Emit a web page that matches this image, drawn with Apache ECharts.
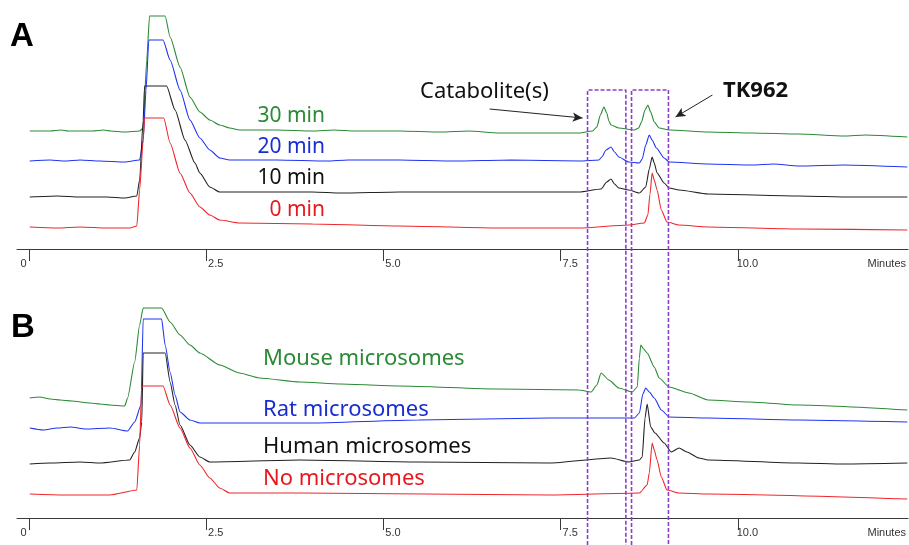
<!DOCTYPE html>
<html lang="en">
<head>
<meta charset="utf-8">
<title>TK962 microsomal stability</title>
<script src="https://cdn.jsdelivr.net/npm/echarts@6/dist/echarts.min.js"></script>
<style>
  html, body { margin: 0; padding: 0; background: #fff; }
  #chart { width: 909px; height: 545px; }
</style>
</head>
<body>
<div id="chart"></div>
<script>
// time axis (minutes)
var tickValues = [0, 2.5, 5, 7.5, 10];
var unitPos = 12.1;          // where "Minutes" sits on the axis

// panel A - incubation time, [minutes, signal]
var min30 = [[0.01,118],[0.3,118],[0.45,119],[0.55,118],[0.9,118],[1.05,119],[1.15,118],[1.35,117],[1.56,118],[1.61,121],[1.66,189],[1.70,233],[1.92,233],[1.99,212],[2.13,182],[2.27,152],[2.41,137],[2.55,129],[2.69,124],[2.83,121],[2.97,119],[3.5,119],[4.0,118],[4.3,119],[4.6,118],[5.23,118],[5.8,117],[6.2,118],[6.63,116],[7.3,116],[7.76,116],[7.95,118],[8.01,122],[8.06,134],[8.11,142],[8.15,136],[8.18,128],[8.21,124],[8.32,121],[8.54,119],[8.60,121],[8.64,127],[8.69,139],[8.73,144],[8.77,137],[8.82,127],[8.89,121],[9.03,119],[9.58,117],[10.2,116],[10.86,115],[11.5,113],[11.8,114],[12.39,112]];
var min20 = [[0.01,88],[0.3,89],[0.5,88],[0.72,89],[1.0,88],[1.35,87],[1.56,89],[1.61,109],[1.65,159],[1.69,209],[1.89,209],[1.99,189],[2.13,159],[2.27,129],[2.41,111],[2.55,99],[2.69,91],[2.83,89],[3.5,89],[4.2,88],[4.5,89],[5.23,89],[6.0,88],[6.8,89],[7.76,88],[8.04,89],[8.08,92],[8.14,99],[8.21,102],[8.26,97],[8.32,92],[8.46,87],[8.61,86],[8.65,90],[8.70,104],[8.75,114],[8.79,109],[8.85,101],[8.96,91],[9.03,87],[9.58,85],[10.2,84],[10.5,85],[10.86,83],[11.5,84],[12.39,82]];
var min10 = [[0.01,52],[0.4,53],[0.72,52],[1.1,52],[1.35,51],[1.52,53],[1.56,69],[1.61,129],[1.63,163],[1.94,163],[2.06,139],[2.20,109],[2.34,86],[2.41,76],[2.55,62],[2.69,57],[2.97,57],[4.0,57],[4.4,56],[5.23,57],[6.3,57],[7.76,57],[8.07,60],[8.15,67],[8.21,70],[8.26,65],[8.32,61],[8.46,59],[8.61,56],[8.70,62],[8.75,80],[8.79,92],[8.82,86],[8.86,76],[8.96,66],[9.03,61],[9.17,59],[9.58,55],[10.86,53],[11.6,52],[12.39,52]];
var min0 = [[0.01,22],[0.4,21],[0.72,22],[1.1,21],[1.42,21],[1.52,23],[1.56,59],[1.61,109],[1.63,131],[1.90,131],[1.99,106],[2.13,76],[2.27,56],[2.41,42],[2.55,34],[2.69,29],[2.97,26],[4.0,25],[5.23,23],[6.63,21],[7.76,21],[8.46,24],[8.68,26],[8.73,34],[8.76,55],[8.79,76],[8.82,69],[8.86,59],[8.92,39],[9.0,27],[9.17,24],[9.58,22],[10.86,20],[12.39,19]];

// panel B - microsome species
var mouse = [[0.01,120],[0.15,121],[0.3,119],[0.44,118],[0.6,117],[0.86,115],[1.0,114],[1.14,113],[1.35,112],[1.39,120],[1.49,156],[1.56,193],[1.61,210],[1.87,210],[1.99,196],[2.13,183],[2.27,173],[2.41,165],[2.69,153],[2.97,145],[3.25,140],[3.82,136],[4.4,134],[5.23,132],[6.63,129],[7.76,128],[7.93,126],[8.01,133],[8.07,145],[8.18,138],[8.32,130],[8.51,126],[8.58,131],[8.61,160],[8.63,173],[8.67,169],[8.72,165],[8.82,151],[8.89,140],[9.03,131],[9.31,125],[9.58,118],[10.15,116],[10.86,113],[12.39,108]];
var rat = [[0.01,90],[0.2,88],[0.4,90],[0.58,91],[0.8,89],[1.14,90],[1.39,87],[1.49,96],[1.58,113],[1.61,199],[1.87,199],[1.92,173],[1.99,146],[2.06,123],[2.13,106],[2.27,98],[2.41,95],[3.96,95],[5.5,98],[7.34,100],[8.54,100],[8.61,105],[8.66,124],[8.70,130],[8.75,126],[8.82,120],[8.92,108],[9.03,101],[9.58,100],[10.86,98],[12.39,96]];
var human = [[0.01,54],[0.3,55],[0.72,56],[1.0,55],[1.42,58],[1.49,66],[1.56,80],[1.59,96],[1.61,165],[1.92,165],[1.99,136],[2.06,113],[2.13,93],[2.27,73],[2.41,61],[2.55,56],[3.82,58],[5.5,56],[7.34,55],[8.21,60],[8.46,56],[8.61,58],[8.65,61],[8.69,100],[8.72,114],[8.77,91],[8.83,85],[8.96,75],[9.06,66],[9.17,70],[9.28,66],[9.45,60],[9.58,58],[10.86,55],[11.5,54],[12.39,55]];
var noMic = [[0.01,24],[0.5,23],[1.14,23],[1.52,28],[1.56,73],[1.59,132],[1.89,132],[1.99,113],[2.13,90],[2.27,70],[2.41,53],[2.55,40],[2.69,30],[2.83,25],[3.82,25],[7.34,23],[8.61,25],[8.72,33],[8.75,45],[8.79,75],[8.82,68],[8.86,58],[8.92,41],[9.0,28],[9.17,25],[9.58,24],[12.39,19]];

// dashed boxes (minutes) and their top (panel A signal)
var catBox = [7.87, 8.41];
var tkBox = [8.49, 9.01];
var boxTop = 159;

var GREEN = '#2a8a35', BLUE = '#1f35f0', BLACK = '#222222', RED = '#f0262a';
var PURPLE = '#8b3fc8';

var chart = echarts.init(document.getElementById('chart'));

function timeAxis(gi, show) {
  return {
    type: 'value', gridIndex: gi, min: -0.17, max: 12.4,
    show: show,
    splitLine: { show: false },
    axisLine: { show: true, onZero: false, lineStyle: { color: '#3a3a3a', width: 1.2 } },
    axisTick: { show: true, length: 12, customValues: tickValues, lineStyle: { color: '#3a3a3a' } },
    axisLabel: {
      show: true, customValues: tickValues.concat([unitPos]), margin: 9,
      align: 'center', color: '#333', fontFamily: 'Liberation Sans', fontSize: 11,
      formatter: function (v) {
        if (v === 0) return '{z|0}';
        if (v > 12) return '{m|Minutes}';
        return '{n|' + v.toFixed(1) + '}';
      },
      rich: {
        z: { padding: [0, 11, 0, 0], fontSize: 11, fontFamily: 'Liberation Sans', color: '#333' },
        n: { padding: [0, 0, 0, 19], fontSize: 11, fontFamily: 'Liberation Sans', color: '#333' },
        m: { fontSize: 11, fontFamily: 'Liberation Sans', color: '#333' }
      }
    }
  };
}

function trace(name, data, color, xi) {
  return {
    name: name, type: 'line', xAxisIndex: xi, yAxisIndex: xi,
    data: data, showSymbol: false, silent: true,
    smooth: 0.2, smoothMonotone: 'x',
    lineStyle: { color: color, width: 1.1 }
  };
}

function boxSeries(range) {
  return {
    type: 'line', xAxisIndex: 2, yAxisIndex: 2, showSymbol: false, silent: true,
    data: [[range[0], -296], [range[0], boxTop], [range[1], boxTop], [range[1], -296]],
    lineStyle: { color: PURPLE, width: 1.6, type: [4, 2] }
  };
}

var option = {
  animation: false,
  backgroundColor: '#fff',
  grid: [
    { left: 17, right: 0, top: 10, height: 239 },
    { left: 17, right: 0, top: 279, height: 239 },
    { left: 17, right: 0, top: 0, height: 545 }
  ],
  xAxis: [timeAxis(0, true), timeAxis(1, true),
    { type: 'value', gridIndex: 2, min: -0.17, max: 12.4, show: false }],
  yAxis: [
    { type: 'value', gridIndex: 0, min: 0, max: 239, show: false },
    { type: 'value', gridIndex: 1, min: 0, max: 239, show: false },
    { type: 'value', gridIndex: 2, min: -296, max: 249, show: false }
  ],
  series: [
    trace('30 min', min30, GREEN, 0),
    trace('20 min', min20, BLUE, 0),
    trace('10 min', min10, BLACK, 0),
    trace('0 min', min0, RED, 0),
    trace('Mouse microsomes', mouse, GREEN, 1),
    trace('Rat microsomes', rat, BLUE, 1),
    trace('Human microsomes', human, BLACK, 1),
    trace('No microsomes', noMic, RED, 1),
    boxSeries(catBox),
    boxSeries(tkBox),
    {
      type: 'line', xAxisIndex: 2, yAxisIndex: 2, data: [], silent: true,
      markLine: {
        silent: true, symbol: ['none', 'arrow'], symbolSize: [7, 10],
        label: { show: false },
        lineStyle: { color: '#222', width: 1, type: 'solid' },
        data: [
          [{ coord: [6.49, 140] }, { coord: [7.80, 131] }],
          [{ coord: [9.63, 154] }, { coord: [9.11, 132] }]
        ]
      }
    }
  ],
  graphic: [
    { type: 'text', left: 10, top: 20, style: { text: 'A', font: 'bold 33px "Liberation Sans"', fill: '#000' } },
    { type: 'text', left: 11, top: 311, style: { text: 'B', font: 'bold 33px "Liberation Sans"', fill: '#000' } },
    { type: 'text', x: 325, y: 116, style: { text: '30 min', font: '21px "Noto Sans"', fill: GREEN, align: 'right', verticalAlign: 'middle' } },
    { type: 'text', x: 325, y: 147, style: { text: '20 min', font: '21px "Noto Sans"', fill: '#1a2ed0', align: 'right', verticalAlign: 'middle' } },
    { type: 'text', x: 325, y: 178, style: { text: '10 min', font: '21px "Noto Sans"', fill: '#111', align: 'right', verticalAlign: 'middle' } },
    { type: 'text', x: 325, y: 210, style: { text: '0 min', font: '21px "Noto Sans"', fill: '#e8191e', align: 'right', verticalAlign: 'middle' } },
    { type: 'text', x: 420, y: 92, style: { text: 'Catabolite(s)', font: '22px "Noto Sans"', fill: '#111', align: 'left', verticalAlign: 'middle' } },
    { type: 'text', x: 723, y: 91, style: { text: 'TK962', font: 'bold 22px "Noto Sans"', fill: '#111', align: 'left', verticalAlign: 'middle' } },
    { type: 'text', x: 263, y: 359, style: { text: 'Mouse microsomes', font: '22px "Noto Sans"', fill: GREEN, align: 'left', verticalAlign: 'middle' } },
    { type: 'text', x: 263, y: 410, style: { text: 'Rat microsomes', font: '22px "Noto Sans"', fill: '#1a2ed0', align: 'left', verticalAlign: 'middle' } },
    { type: 'text', x: 263, y: 447, style: { text: 'Human microsomes', font: '22px "Noto Sans"', fill: '#111', align: 'left', verticalAlign: 'middle' } },
    { type: 'text', x: 263, y: 479, style: { text: 'No microsomes', font: '22px "Noto Sans"', fill: '#e8191e', align: 'left', verticalAlign: 'middle' } }
  ]
};
chart.setOption(option);
</script>
</body>
</html>
